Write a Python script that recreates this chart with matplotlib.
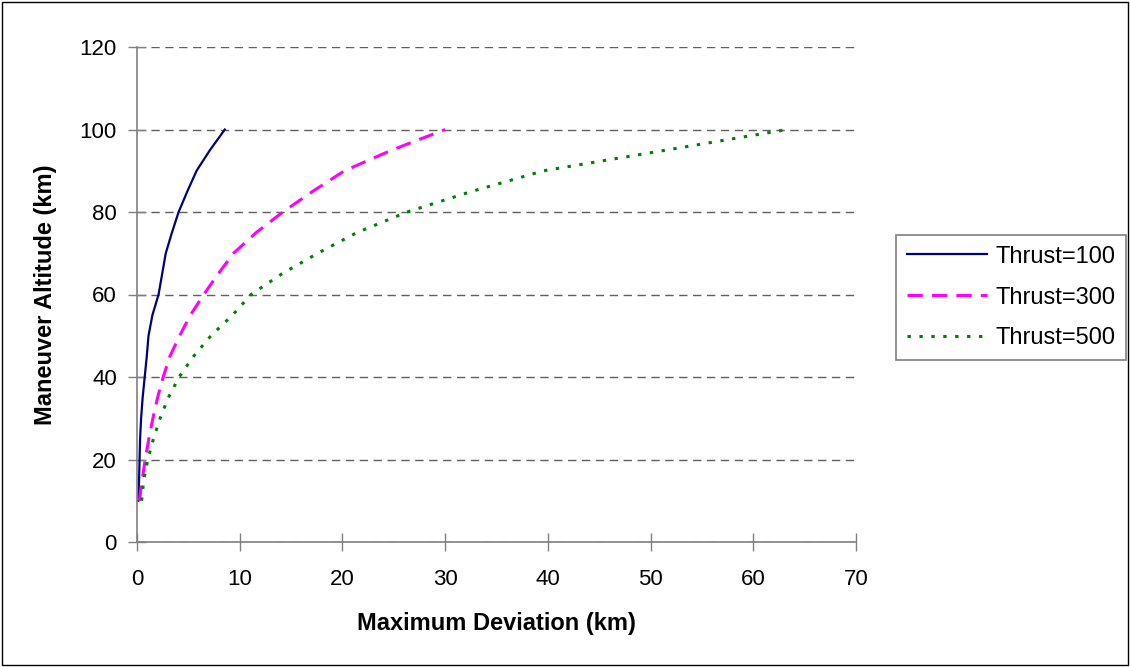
import matplotlib
matplotlib.use("Agg")
import matplotlib.pyplot as plt
from matplotlib.patches import Rectangle

altitude = [10, 15, 20, 25, 30, 35, 40, 45, 50, 55, 60, 65, 70, 75, 80, 85, 90, 95, 100]
dev_t100 = [0.13, 0.2, 0.25, 0.3, 0.4, 0.55, 0.75, 0.95, 1.12, 1.5, 2.1, 2.45, 2.8, 3.4, 4.05, 4.9, 5.8, 7.1, 8.55]
dev_t300 = [0.23, 0.5, 0.8, 1.15, 1.55, 2.0, 2.55, 3.2, 4.15, 5.2, 6.5, 7.9, 9.4, 11.6, 14.2, 17.1, 20.2, 24.8, 30.0]
dev_t500 = [0.45, 0.65, 1.05, 1.6, 2.25, 3.05, 4.1, 5.5, 7.2, 9.3, 11.1, 14.1, 17.6, 21.4, 26.3, 32.6, 39.6, 51.5, 63.3]
labels = ["Thrust=100", "Thrust=300", "Thrust=500"]
x_ticks = [0, 10, 20, 30, 40, 50, 60, 70]
y_ticks = [0, 20, 40, 60, 80, 100, 120]

plt.rcParams['font.family'] = ['Liberation Sans', 'DejaVu Sans']

W, H = 1130, 667
fig = plt.figure(figsize=(W / 100, H / 100), dpi=100)
ax = fig.add_axes([137 / W, 1 - 542 / H, (856 - 137) / W, (542 - 47) / H])

# outer chart border
fig.patches.append(Rectangle((2 / W, 2 / H), (W - 4) / W, (H - 4) / H, transform=fig.transFigure,
                             fill=False, edgecolor='black', linewidth=1.0))

ax.plot(dev_t100, altitude, color='#000080', linewidth=1.6, linestyle='-', label=labels[0])
ax.plot(dev_t300, altitude, color='#FF00FF', linewidth=2.2, linestyle=(0, (5, 3)), label=labels[1])
ax.plot(dev_t500, altitude, color='#008000', linewidth=2.2, linestyle=(0, (1.1, 2.8)), label=labels[2])

ax.set_xlim(0, 70)
ax.set_ylim(0, 120)
ax.set_xticks(x_ticks)
ax.set_yticks(y_ticks)
ax.tick_params(axis='both', labelsize=16, direction='inout', length=13, color='#808080', width=1)
ax.tick_params(axis='x', pad=13)
ax.tick_params(axis='y', pad=8)
ax.yaxis.grid(True, color='#606060', linestyle=(0, (6, 4)), linewidth=1.0)
ax.set_axisbelow(True)
for s in ['top', 'right']:
    ax.spines[s].set_visible(False)
for s in ['left', 'bottom']:
    ax.spines[s].set_color('#808080')
    ax.spines[s].set_linewidth(1.2)

ax.set_xlabel("Maximum Deviation (km)", fontsize=17, fontweight='bold', labelpad=16)
ax.set_ylabel("Maneuver Altitude (km)", fontsize=17, fontweight='bold', labelpad=16)

leg = ax.legend(loc='upper left', bbox_to_anchor=((896 - 137) / (856 - 137), (542 - 235) / (542 - 47)),
                fontsize=17, frameon=True, fancybox=False, edgecolor='#606060',
                handlelength=3.4, handletextpad=0.35, labelspacing=0.8, borderpad=0.45,
                borderaxespad=0)
leg.get_frame().set_linewidth(1.2)

fig.savefig("out.png", dpi=100)
